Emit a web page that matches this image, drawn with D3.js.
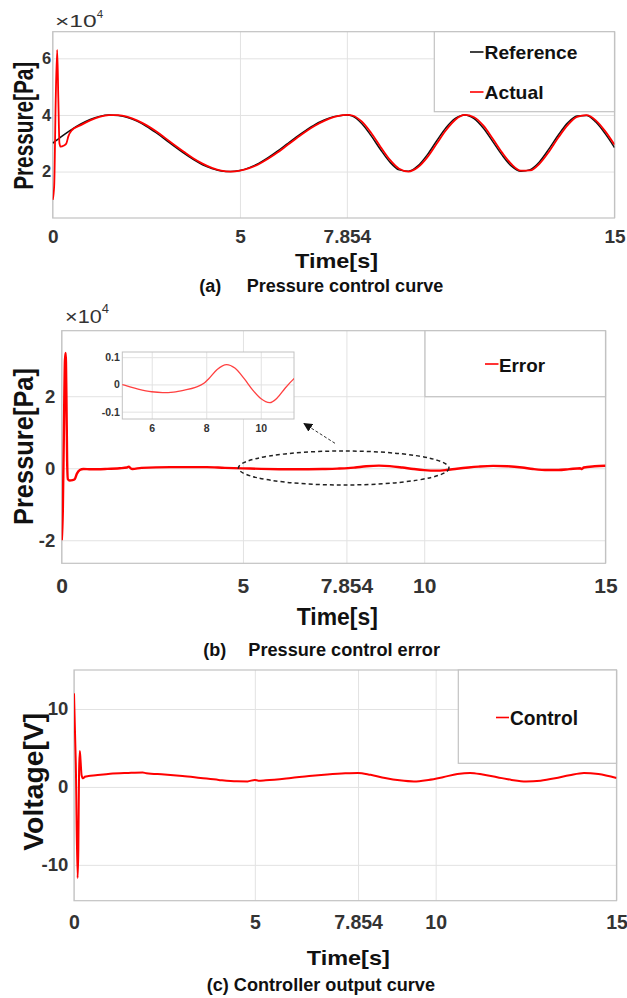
<!DOCTYPE html>
<html>
<head>
<meta charset="utf-8">
<script src="https://cdn.jsdelivr.net/npm/d3@7"></script>
<style>
  body { margin: 0; background: #fff; }
  text { font-family: "Liberation Sans", Arial, sans-serif; }
</style>
</head>
<body>
<svg id="fig" width="627" height="998"></svg>
<script>
// tick values
const timeTicksA = [0, 5, 7.854, 15];
const timeTicksBC = [0, 5, 7.854, 10, 15];
const pressureTicks = [2, 4, 6];
const errorTicks = [-2, 0, 2];
const voltageTicks = [-10, 0, 10];
const insetTimeTicks = [6, 8, 10];
const insetErrorTicks = [-0.1, 0, 0.1];

// (a) pressure, x10^4 Pa : [time s, value]
const referencePressure = [
  [0, 3.00], [0.25, 3.25], [0.5, 3.48], [0.75, 3.68], [1.0, 3.84], [1.25, 3.95], [1.5, 4.00],
  [1.75, 3.98], [2.0, 3.91], [2.25, 3.78], [2.5, 3.60], [2.75, 3.38], [3.0, 3.14], [3.25, 2.89],
  [3.5, 2.65], [3.75, 2.43], [4.0, 2.24], [4.25, 2.11], [4.5, 2.02], [4.75, 2.00], [5.0, 2.04],
  [5.25, 2.14], [5.5, 2.29], [5.75, 2.49], [6.0, 2.72], [6.25, 2.97], [6.5, 3.22], [6.75, 3.45],
  [7.0, 3.66], [7.25, 3.82], [7.5, 3.94], [7.75, 3.99], [7.854, 4.00], [8.0, 3.96], [8.25, 3.70],
  [8.5, 3.27], [8.75, 2.78], [9.0, 2.34], [9.25, 2.06], [9.5, 2.01], [9.75, 2.20], [10.0, 2.59],
  [10.25, 3.08], [10.5, 3.55], [10.75, 3.88], [11.0, 4.00], [11.25, 3.87], [11.5, 3.53],
  [11.75, 3.06], [12.0, 2.58], [12.25, 2.19], [12.5, 2.01], [12.75, 2.07], [13.0, 2.35],
  [13.25, 2.80], [13.5, 3.29], [13.75, 3.72], [14.0, 3.96], [14.25, 3.98], [14.5, 3.75],
  [14.75, 3.34], [15.0, 2.85]
];
const actualPressure = [
  [0, 1.0], [0.04, 1.5], [0.08, 4.5], [0.12, 6.3], [0.15, 4.6], [0.18, 3.0], [0.21, 2.88],
  [0.3, 2.92], [0.36, 2.98], [0.42, 3.25], [0.5, 3.44], [0.75, 3.64], [1.0, 3.81], [1.25, 3.93],
  [1.5, 3.99], [1.75, 3.99], [2.0, 3.93], [2.25, 3.81], [2.5, 3.64], [2.75, 3.43], [3.0, 3.19],
  [3.25, 2.94], [3.5, 2.70], [3.75, 2.47], [4.0, 2.28], [4.25, 2.13], [4.5, 2.03], [4.75, 2.00],
  [5.0, 2.03], [5.25, 2.12], [5.5, 2.26], [5.75, 2.45], [6.0, 2.67], [6.25, 2.92], [6.5, 3.17],
  [6.75, 3.41], [7.0, 3.62], [7.25, 3.79], [7.5, 3.92], [7.75, 3.99], [7.9, 4.00], [8.0, 3.98],
  [8.25, 3.77], [8.5, 3.37], [8.75, 2.88], [9.0, 2.42], [9.25, 2.10], [9.5, 2.00], [9.75, 2.15],
  [10.0, 2.50], [10.25, 2.98], [10.5, 3.46], [10.75, 3.83], [11.0, 4.00], [11.25, 3.92],
  [11.5, 3.62], [11.75, 3.16], [12.0, 2.67], [12.25, 2.26], [12.5, 2.03], [12.75, 2.04],
  [13.0, 2.28], [13.25, 2.70], [13.5, 3.20], [13.75, 3.64], [14.0, 3.93], [14.25, 3.99],
  [14.5, 3.81], [14.75, 3.43], [15.0, 2.95]
];

// (b) pressure error, x10^4 Pa
const pressureError = [
  [0, -2.0], [0.03, -1.2], [0.06, 1.0], [0.09, 3.0], [0.11, 3.2], [0.13, 2.0], [0.15, 0.2],
  [0.17, -0.3], [0.22, -0.34], [0.3, -0.33], [0.36, -0.3], [0.42, -0.15], [0.5, -0.05],
  [0.6, -0.02], [0.8, -0.03], [1.2, -0.02], [1.6, 0.0], [1.8, 0.02], [1.85, 0.045], [1.9, 0.0],
  [1.95, -0.02], [2.2, 0.01], [3.0, 0.03], [4.0, 0.03], [4.5, 0.01], [5.0, -0.003],
  [5.5, -0.017], [6.0, -0.027], [6.4, -0.030], [6.8, -0.028], [7.2, -0.021], [7.6, -0.011],
  [7.9, 0.003], [8.1, 0.022], [8.4, 0.055], [8.75, 0.073], [9.05, 0.060], [9.4, 0.020],
  [9.7, -0.020], [10.0, -0.052], [10.33, -0.067], [10.6, -0.050], [10.9, -0.013], [11.22, 0.021],
  [11.5, 0.045], [11.9, 0.065], [12.3, 0.055], [12.7, 0.020], [13.0, -0.020], [13.4, -0.050],
  [13.7, -0.048], [14.0, -0.025], [14.3, 0.0], [14.35, -0.02], [14.4, 0.02], [14.7, 0.055],
  [15.0, 0.07]
];

// (c) controller output, V
const controlVoltage = [
  [0, 12.0], [0.05, 3.0], [0.1, -11.7], [0.12, -8.0], [0.14, 2.0], [0.16, 4.6], [0.18, 3.5],
  [0.21, 1.5], [0.25, 1.1], [0.3, 1.3], [0.4, 1.4], [0.6, 1.5], [1.0, 1.7], [1.5, 1.8],
  [1.9, 1.85], [2.0, 1.75], [2.5, 1.6], [3.0, 1.4], [3.5, 1.15], [4.0, 0.9], [4.5, 0.72],
  [4.8, 0.7], [5.0, 0.9], [5.1, 0.8], [5.3, 0.85], [6.0, 1.15], [6.5, 1.4], [7.0, 1.6],
  [7.5, 1.75], [7.85, 1.8], [8.2, 1.55], [8.6, 1.15], [9.0, 0.85], [9.4, 0.7], [9.8, 0.9],
  [10.2, 1.25], [10.6, 1.65], [10.95, 1.8], [11.3, 1.6], [11.7, 1.25], [12.1, 0.9], [12.5, 0.7],
  [12.9, 0.8], [13.3, 1.1], [13.7, 1.5], [14.1, 1.8], [14.5, 1.65], [15.0, 1.15]
];

const svg = d3.select("#fig");
const gridColor = "#e2e2e2";
const boxColor = "#c2c2c2";
const tickColor = "#333";

svg.append("defs").append("marker")
  .attr("id", "arrowHead")
  .attr("viewBox", "0 0 10 10")
  .attr("refX", 9).attr("refY", 5)
  .attr("markerWidth", 9).attr("markerHeight", 9)
  .attr("markerUnits", "userSpaceOnUse")
  .attr("orient", "auto")
  .append("path").attr("d", "M0,0L10,5L0,10Z").attr("fill", "#111");

function drawPanel(cfg) {
  const g = svg.append("g");
  const x = d3.scaleLinear().domain(cfg.xDomain).range([cfg.left, cfg.right]);
  const y = d3.scaleLinear().domain(cfg.yDomain).range([cfg.bottom, cfg.top]);
  const w = cfg.right - cfg.left;
  const h = cfg.bottom - cfg.top;

  g.append("rect").attr("x", cfg.left).attr("y", cfg.top)
    .attr("width", w).attr("height", h).attr("fill", "#fff");

  // grid
  g.append("g").attr("transform", `translate(0,${cfg.bottom})`)
    .call(d3.axisBottom(x).tickValues(cfg.xTicks).tickSize(-h).tickFormat(""))
    .call(a => a.select(".domain").remove())
    .selectAll("line").attr("stroke", gridColor);
  g.append("g").attr("transform", `translate(${cfg.left},0)`)
    .call(d3.axisLeft(y).tickValues(cfg.yTicks).tickSize(-w).tickFormat(""))
    .call(a => a.select(".domain").remove())
    .selectAll("line").attr("stroke", gridColor);

  g.append("rect").attr("x", cfg.left).attr("y", cfg.top)
    .attr("width", w).attr("height", h)
    .attr("fill", "none").attr("stroke", boxColor).attr("stroke-width", cfg.boxWidth || 1.2);

  // tick labels
  g.append("g").attr("transform", `translate(0,${cfg.bottom})`)
    .call(d3.axisBottom(x).tickValues(cfg.xTicks).tickSize(0).tickPadding(cfg.xPad).tickFormat(d => String(d)))
    .call(a => a.select(".domain").remove())
    .selectAll("text")
    .attr("font-size", cfg.xFont).attr("font-weight", "bold").attr("fill", tickColor);
  g.append("g").attr("transform", `translate(${cfg.left},0)`)
    .call(d3.axisLeft(y).tickValues(cfg.yTicks).tickSize(0).tickPadding(cfg.yPad).tickFormat(d => String(d)))
    .call(a => a.select(".domain").remove())
    .selectAll("text")
    .attr("font-size", cfg.yFont).attr("font-weight", "bold").attr("fill", tickColor);

  const clipId = "clip-" + cfg.id;
  svg.select("defs").append("clipPath").attr("id", clipId)
    .append("rect").attr("x", cfg.left).attr("y", cfg.top).attr("width", w).attr("height", h);
  const plot = g.append("g").attr("clip-path", `url(#${clipId})`);

  return { g, plot, x, y };
}

function drawSeries(panel, data, color, width) {
  const line = d3.line()
    .x(d => panel.x(d[0]))
    .y(d => panel.y(d[1]))
    .curve(d3.curveMonotoneX);
  panel.plot.append("path").datum(data)
    .attr("d", line).attr("fill", "none")
    .attr("stroke", color).attr("stroke-width", width)
    .attr("stroke-linejoin", "round");
}

function drawLegend(panel, box, entries) {
  panel.g.append("rect")
    .attr("x", box[0]).attr("y", box[1])
    .attr("width", box[2] - box[0]).attr("height", box[3] - box[1])
    .attr("fill", "#fff").attr("stroke", boxColor).attr("stroke-width", 1.2);
  entries.forEach(e => {
    panel.g.append("line")
      .attr("x1", e.x0).attr("x2", e.x1).attr("y1", e.lineY).attr("y2", e.lineY)
      .attr("stroke", e.color).attr("stroke-width", 1.6);
    panel.g.append("text")
      .attr("x", e.textX).attr("y", e.baseline)
      .attr("font-size", e.size).attr("font-weight", "bold").attr("fill", "#111")
      .attr("textLength", e.len).attr("lengthAdjust", "spacingAndGlyphs")
      .text(e.label);
  });
}

function yTitle(label, bx, cy, size, len) {
  svg.append("text")
    .attr("transform", `translate(${bx},${cy}) rotate(-90)`)
    .attr("text-anchor", "middle")
    .attr("font-size", size).attr("font-weight", "bold").attr("fill", "#111")
    .attr("textLength", len).attr("lengthAdjust", "spacingAndGlyphs")
    .text(label);
}

function xTitle(label, cx, by, size, len) {
  svg.append("text")
    .attr("x", cx - len / 2).attr("y", by)
    .attr("font-size", size).attr("font-weight", "bold").attr("fill", "#111")
    .attr("textLength", len).attr("lengthAdjust", "spacingAndGlyphs")
    .text(label);
}

function caption(tag, tagX, label, labelX, by, len) {
  if (tag) {
    svg.append("text").attr("x", tagX).attr("y", by)
      .attr("font-size", 18).attr("font-weight", "bold").attr("fill", "#111").text(tag);
  }
  svg.append("text").attr("x", labelX).attr("y", by)
    .attr("font-size", 18).attr("font-weight", "bold").attr("fill", "#111")
    .attr("textLength", len).attr("lengthAdjust", "spacingAndGlyphs")
    .text(label);
}

function exponent(x, by, size, len, supX, supY, supSize) {
  svg.append("text").attr("x", x).attr("y", by)
    .attr("font-size", size).attr("fill", tickColor)
    .attr("textLength", len).attr("lengthAdjust", "spacingAndGlyphs")
    .text("\u00d710");
  svg.append("text").attr("x", supX).attr("y", supY)
    .attr("font-size", supSize).attr("fill", tickColor).text("4");
}

// ---------- (a) ----------
const pA = drawPanel({
  id: "a", left: 52.7, right: 614.5, top: 31.7, bottom: 218,
  xDomain: [0, 15], yDomain: [0.36, 6.94],
  xTicks: timeTicksA, yTicks: pressureTicks,
  xPad: 12, yPad: 1.5, xFont: 19, yFont: 16.5
});
drawSeries(pA, referencePressure, "#111", 1.5);
drawSeries(pA, actualPressure, "#ff0000", 1.8);
drawLegend(pA, [434.3, 31.7, 614.5, 111.7], [
  { label: "Reference", color: "#111", x0: 470, x1: 483.5, lineY: 52, textX: 484.5, baseline: 59.3, size: 18.5, len: 93 },
  { label: "Actual", color: "#ff0000", x0: 470, x1: 483.5, lineY: 92, textX: 484.5, baseline: 99, size: 18.5, len: 59 }
]);
exponent(55, 26.7, 17, 41.7, 96.7, 18.3, 11.5);
yTitle("Pressure[Pa]", 33.3, 125.8, 27, 128);
xTitle("Time[s]", 336.5, 268.3, 21, 83);
caption("(a)", 199.3, "Pressure control curve", 246.7, 291.7, 196.6);

// ---------- (b) ----------
const pB = drawPanel({
  id: "b", left: 61.7, right: 605.5, top: 330.7, bottom: 563.3,
  xDomain: [0, 15], yDomain: [-2.64, 3.82],
  xTicks: timeTicksBC, yTicks: errorTicks,
  xPad: 15, yPad: 6.5, xFont: 21, yFont: 18.5
});
drawSeries(pB, pressureError, "#ff0000", 2.4);
drawLegend(pB, [425, 330.7, 605.5, 396.7], [
  { label: "Error", color: "#ff0000", x0: 485, x1: 498.5, lineY: 364, textX: 499, baseline: 371.7, size: 19, len: 46 }
]);
exponent(65, 323.3, 18.5, 36.7, 101.7, 313.3, 13);
yTitle("Pressure[Pa]", 33.3, 446.5, 28, 157);
xTitle("Time[s]", 337.3, 625, 23, 81);
caption("(b)", 203.3, "Pressure control error", 248.3, 655.5, 191.7);

// zoom marker on the error curve
pB.g.append("ellipse")
  .attr("cx", 343.7).attr("cy", 468).attr("rx", 105.3).attr("ry", 17)
  .attr("fill", "none").attr("stroke", "#222").attr("stroke-width", 1.5)
  .attr("stroke-dasharray", "4,3");
pB.g.append("line")
  .attr("x1", 335).attr("y1", 443.3).attr("x2", 304).attr("y2", 423.5)
  .attr("stroke", "#333").attr("stroke-width", 1).attr("stroke-dasharray", "3,2")
  .attr("marker-end", "url(#arrowHead)");

// inset
const pInset = drawPanel({
  id: "inset", left: 122.3, right: 294, top: 352, bottom: 419,
  xDomain: [4.92, 11.22], yDomain: [-0.127, 0.119],
  xTicks: insetTimeTicks, yTicks: insetErrorTicks,
  xPad: 6, yPad: 2.5, xFont: 10.5, yFont: 10.5, boxWidth: 1
});
drawSeries(pInset, pressureError.filter(d => d[0] >= 4.4 && d[0] <= 11.6), "#ff4040", 1.3);

// ---------- (c) ----------
const pC = drawPanel({
  id: "c", left: 74, right: 616.5, top: 670, bottom: 900.7,
  xDomain: [0, 15], yDomain: [-14.6, 15],
  xTicks: timeTicksBC, yTicks: voltageTicks,
  xPad: 14.3, yPad: 5.7, xFont: 19.5, yFont: 18.5
});
drawSeries(pC, controlVoltage, "#ff0000", 2);
drawLegend(pC, [458.3, 670, 616.5, 763.3], [
  { label: "Control", color: "#ff0000", x0: 496, x1: 509, lineY: 717.5, textX: 510, baseline: 725, size: 19.5, len: 68 }
]);
yTitle("Voltage[V]", 43.3, 781.7, 28, 138);
xTitle("Time[s]", 348.3, 965, 21, 83);
caption(null, 0, "(c) Controller output curve", 206.7, 991, 228.3);
</script>
</body>
</html>
